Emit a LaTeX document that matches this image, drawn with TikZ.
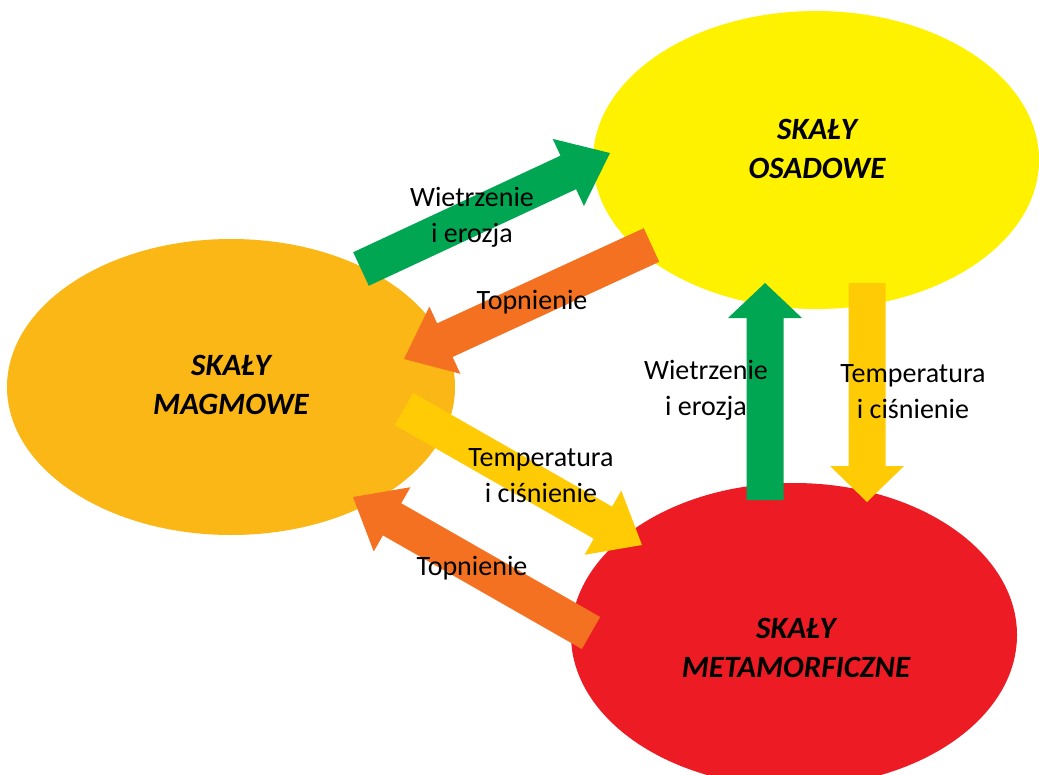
\documentclass[tikz,border=0pt]{standalone}
\usepackage{fontspec}
\setmainfont{Carlito}
\usetikzlibrary{shapes.geometric,calc}

\definecolor{sedyellow}{HTML}{FFF200}
\definecolor{igngold}{HTML}{FBB715}
\definecolor{metred}{HTML}{ED1C24}
\definecolor{arrgreen}{HTML}{00A651}
\definecolor{arrorange}{HTML}{F37121}
\definecolor{arryellow}{HTML}{FFCB05}

% half widths of the shaft and of the head of a block arrow
\newcommand{\shafthalf}{18.5pt}
\newcommand{\headhalf}{37pt}
% block arrow: #1 colour, #2 tail coordinate, #3 tip coordinate, #4 head length
\newcommand{\blockarrow}[4]{%
  \fill[#1]
    ($(#2)!\shafthalf!90:(#3)$)
    -- ($(#3)!#4!(#2)!\shafthalf!90:(#3)$)
    -- ($(#3)!#4!(#2)!\headhalf!90:(#3)$)
    -- (#3)
    -- ($(#3)!#4!(#2)!\headhalf!-90:(#3)$)
    -- ($(#3)!#4!(#2)!\shafthalf!-90:(#3)$)
    -- ($(#2)!\shafthalf!-90:(#3)$)
    -- cycle;}

\begin{document}
\begin{tikzpicture}[x=1pt,y=-1pt,
  rock/.style={ellipse, inner sep=0pt, draw=none},
  rocklabel/.style={anchor=base, align=center, inner sep=0pt,
    font=\fontsize{31}{39}\selectfont\bfseries\itshape},
  proclabel/.style={anchor=base, align=center, inner sep=0pt,
    font=\fontsize{28}{36}\selectfont}]
\useasboundingbox (0,0) rectangle (1039,774);
\clip (0,0) rectangle (1039,774);

% rock groups
\node[rock, fill=sedyellow, minimum width=446pt, minimum height=298pt] (osa) at (816,160) {};
\node[rock, fill=igngold, minimum width=448pt, minimum height=296pt] (mag) at (231,387) {};
\node[rock, fill=metred, minimum width=446pt, minimum height=304pt] (met) at (794,635) {};

% arrow ends
\coordinate (magA) at (361,269);   \coordinate (osaA) at (610,153);
\coordinate (osaB) at (651.5,245); \coordinate (magB) at (404,359);
\coordinate (magC) at (404,409);   \coordinate (metC) at (642,545);
\coordinate (metD) at (591,633);   \coordinate (magD) at (353,497);
\coordinate (metE) at (765,500);   \coordinate (osaE) at (765,283);
\coordinate (osaF) at (867,283);   \coordinate (metF) at (867,502);

% processes
\blockarrow{arrgreen}{magA}{osaA}{46pt}
\blockarrow{arrorange}{osaB}{magB}{45pt}
\blockarrow{arryellow}{magC}{metC}{45pt}
\blockarrow{arrorange}{metD}{magD}{45pt}
\blockarrow{arrgreen}{metE}{osaE}{35pt}
\blockarrow{arryellow}{osaF}{metF}{36pt}

% rock names (base anchor sits on the last line)
\node[rocklabel] (osaname) at (817,178) {SKAŁY\\OSADOWE};
\node[rocklabel] (magname) at (231,414) {SKAŁY\\MAGMOWE};
\node[rocklabel] (metname) at (796,677) {SKAŁY\\METAMORFICZNE};

% process names
\node[proclabel] (weath1) at (472,242) {Wietrzenie\\i erozja};
\node[proclabel] (melt1) at (532,309) {Topnienie};
\node[proclabel] (weath2) at (706,415) {Wietrzenie\\i erozja};
\node[proclabel] (press1) at (913,418) {Temperatura\\i ciśnienie};
\node[proclabel] (press2) at (541,502) {Temperatura\\i ciśnienie};
\node[proclabel] (melt2) at (472,575) {Topnienie};
\end{tikzpicture}
\end{document}
